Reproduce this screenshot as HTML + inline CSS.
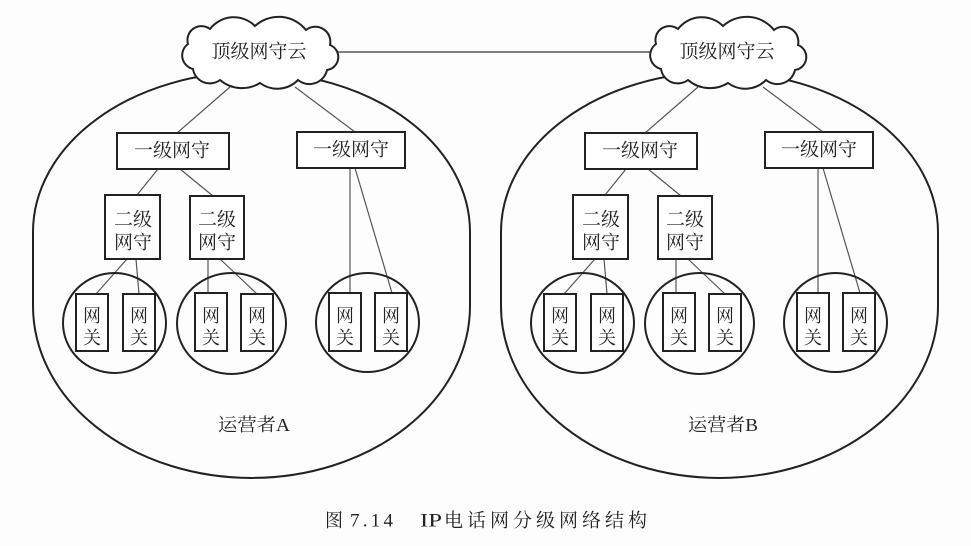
<!DOCTYPE html>
<html><head><meta charset="utf-8"><style>
html,body{margin:0;padding:0;background:#fff;}
svg{display:block;}
text{font-family:"Liberation Serif","Noto Serif CJK SC","Noto Sans CJK SC",serif;fill:#222;}
</style></head><body>
<svg width="971" height="546" viewBox="0 0 971 546" xmlns="http://www.w3.org/2000/svg">
<rect width="971" height="546" fill="#fdfdfd"/>
<line x1="336" y1="52" x2="652" y2="52" stroke="#333" stroke-width="1.3"/>
<defs>
<g id="half">
  <path d="M33,232 A218.5,160 0 0 1 470,232 L470,306 A218.5,172 0 0 1 33,306 Z" fill="none" stroke="#222" stroke-width="2"/>
  <g stroke="#555" stroke-width="1.2">
    <line x1="230" y1="87" x2="177" y2="133"/>
    <line x1="295" y1="87" x2="355" y2="132"/>
    <line x1="158" y1="169" x2="137" y2="195"/>
    <line x1="180" y1="169" x2="213" y2="196"/>
    <line x1="127" y1="259" x2="96" y2="294"/>
    <line x1="136" y1="259" x2="139" y2="294"/>
    <line x1="208" y1="259" x2="208" y2="293"/>
    <line x1="220" y1="259" x2="257" y2="294"/>
    <line x1="350" y1="168" x2="350" y2="293"/>
    <line x1="355" y1="168" x2="392" y2="293"/>
  </g>
  <path d="M188,44 A14,14 0 0 1 210,29 A30,30 0 0 1 255,26 A35,35 0 0 1 306,30 A15,15 0 0 1 330,45 A13,13 0 0 1 327,70 A18,18 0 0 1 298,80 A29,29 0 0 1 260,83 A34,34 0 0 1 220,80 A17,17 0 0 1 193,69 A14,14 0 0 1 188,44 Z" fill="#fff" stroke="#222" stroke-width="2"/>
  <g fill="none" stroke="#222" stroke-width="2">
    <ellipse cx="114.5" cy="323" rx="51.5" ry="50"/>
    <ellipse cx="231.5" cy="323.5" rx="54.5" ry="50.5"/>
    <ellipse cx="367.5" cy="322.5" rx="51.5" ry="49.5"/>
  </g>
  <g fill="#fff" stroke="#222" stroke-width="2">
    <rect x="117" y="133" width="112" height="36"/>
    <rect x="297" y="132" width="108" height="36"/>
    <rect x="105" y="195" width="55" height="64"/>
    <rect x="190" y="196" width="54" height="63"/>
    <rect x="76" y="294" width="32" height="57"/>
    <rect x="123" y="294" width="32" height="57"/>
    <rect x="195" y="293" width="32" height="58"/>
    <rect x="241" y="294" width="32" height="57"/>
    <rect x="329" y="293" width="32" height="58"/>
    <rect x="375" y="293" width="32" height="58"/>
  </g>
  <g font-size="19" text-anchor="middle" dominant-baseline="central">
    <text x="259" y="52">顶级网守云</text>
    <text x="172" y="151">一级网守</text>
    <text x="351" y="150">一级网守</text>
    <text x="133" y="220">二级</text>
    <text x="133" y="243">网守</text>
    <text x="217" y="220">二级</text>
    <text x="217" y="243">网守</text>
  </g>
  <g font-size="18" text-anchor="middle" dominant-baseline="central">
    <text x="92" y="316">网</text><text x="92" y="338">关</text>
    <text x="139" y="316">网</text><text x="139" y="338">关</text>
    <text x="211" y="316">网</text><text x="211" y="338">关</text>
    <text x="257" y="316">网</text><text x="257" y="338">关</text>
    <text x="345" y="316">网</text><text x="345" y="338">关</text>
    <text x="391" y="316">网</text><text x="391" y="338">关</text>
  </g>
</g>
</defs>
<use href="#half"/>
<g transform="translate(468,0)"><use href="#half"/></g>
<g font-size="18" dominant-baseline="central">
  <text x="218" y="425" textLength="72" lengthAdjust="spacingAndGlyphs">运营者A</text>
  <text x="688" y="425" textLength="70" lengthAdjust="spacingAndGlyphs">运营者B</text>
</g>
<g font-size="19" dominant-baseline="central">
  <text x="325" y="521" textLength="18" lengthAdjust="spacingAndGlyphs">图</text>
  <text x="350" y="521" textLength="43" lengthAdjust="spacing">7.14</text>
  <text x="420" y="521" textLength="22" lengthAdjust="spacingAndGlyphs">IP</text>
  <text x="444" y="521" textLength="203" lengthAdjust="spacing">电话网分级网络结构</text>
</g>
</svg>
</body></html>
